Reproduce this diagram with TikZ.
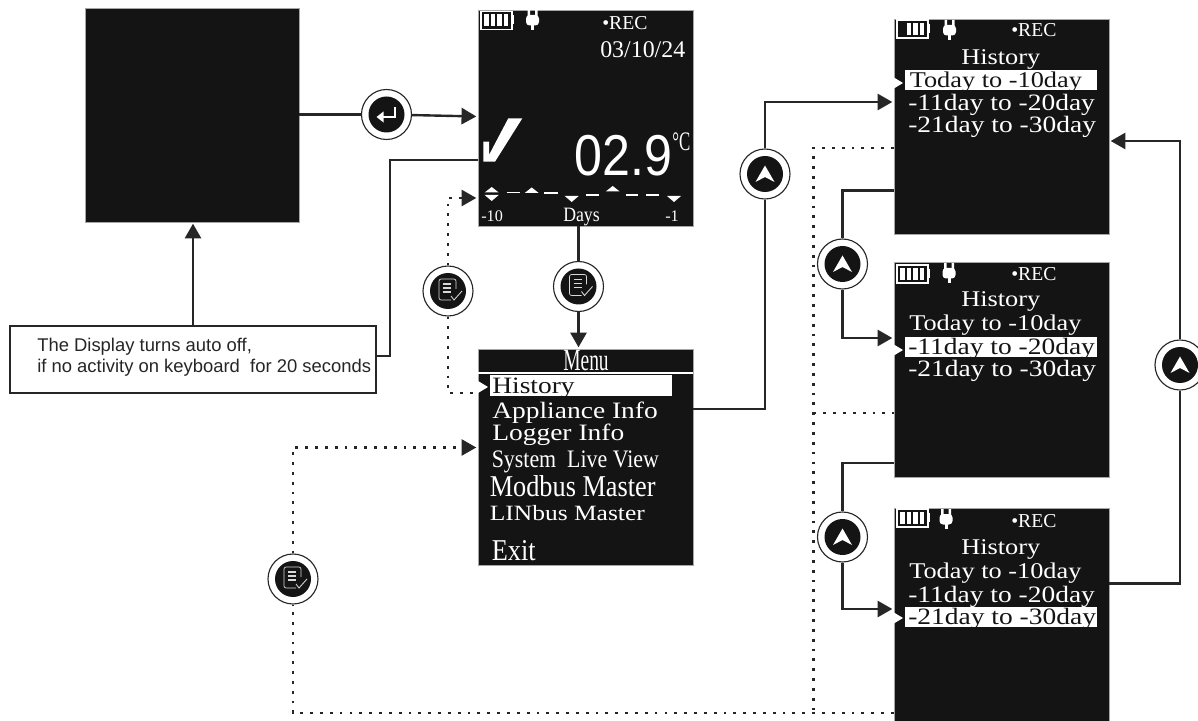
\documentclass[tikz,border=0pt]{standalone}
\usepackage{fontspec}
\usetikzlibrary{arrows.meta,positioning}
\setmainfont{Liberation Serif}
\setsansfont{Liberation Sans}
\newfontfamily\lcdwide[FakeStretch=1.17]{Liberation Serif}
\newfontfamily\lcdtall[FakeStretch=.87]{Liberation Serif}
\newfontfamily\lcdthin[FakeStretch=.63]{Liberation Serif}
\newfontfamily\lcdsans[FakeStretch=.87]{Liberation Sans}
\definecolor{ink}{RGB}{20,20,20}
\definecolor{wire}{RGB}{38,38,38}
\newcommand{\pxu}{0.025cm}
\tikzset{
  scrn/.style={draw=gray!70, fill=ink, inner sep=0pt, minimum width=215*\pxu, minimum height=215*\pxu},
  hbar/.style={fill=white, inner sep=0pt},
  lcd/.style={anchor=base west, inner sep=0pt, text=white},
  rowtxt/.style={lcd, font=\lcdwide\fontsize{16}{18}\selectfont},
  menutxt/.style={lcd, font=\lcdwide\fontsize{16.7}{18}\selectfont},
  bigtxt/.style={lcd, font=\lcdtall\fontsize{21.5}{23}\selectfont},
  smalltxt/.style={lcd, font=\fontsize{11.5}{13}\selectfont},
  rectxt/.style={lcd, font=\fontsize{14}{16}\selectfont},
  notebox/.style={draw=wire, fill=white, line width=1pt, minimum width=366*\pxu, minimum height=67*\pxu},
  keybtn/.style={circle, draw=wire, fill=white, line width=.8pt, inner sep=0pt, minimum size=50*\pxu},
  flowln/.style={wire, line width=1.7pt},
  flowarr/.style={flowln, -{Triangle[length=10.5pt,width=11.5pt]}, shorten >=1pt},
  dotln/.style={wire, line width=1.5pt, dash pattern=on 2pt off 5pt},
  dotarr/.style={dotln, -{Triangle[length=10.5pt,width=11.5pt]}, shorten >=1pt},
  pics/battery/.style={code={
    \draw[white, line width=.8pt] (0,0) rectangle (31,18);
    \fill[white] (31,4) rectangle (33,13);
    \foreach \b in {1,...,#1} \fill[white] ({29-6.5*\b},3) rectangle ++(4.6,12);
  }},
  pics/plug/.style={code={
    \fill[white] (-5,0) rectangle (-2.5,6) (2.5,0) rectangle (5,6);
    \fill[white, rounded corners=2.5pt] (-6.5,5) rectangle (6.5,15.5);
    \fill[white] (-1.5,15) rectangle (1.5,20);
  }},
  pics/upkey/.style={code={
    \fill[ink] (0,0) circle (18);
    \fill[white] (0,-8.5) -- (9.5,8) -- (0,3) -- (-9.5,8) -- cycle;
  }},
  pics/enterkey/.style={code={
    \fill[ink] (0,0) circle (18);
    \draw[white, line width=1.3pt, -{Triangle[length=5pt,width=7.5pt]}] (8.5,-7) -- (8.5,2.5) -- (-10,2.5);
  }},
  pics/dockey/.style={code={
    \fill[ink] (0,0) circle (18);
    \draw[white!85!black, line width=.5pt, rounded corners=1.5pt] (8,-2) -- (8,-12) -- (-9,-12) -- (-9,9) -- (3,9);
    \foreach \d in {-7,-3,1} \draw[white!85!black, line width=1.1pt] (-5,\d) -- (3,\d);
    \draw[white!85!black, line width=.6pt] (3,5) -- (6,9) -- (14,0);
  }},
}
\begin{document}
\begin{tikzpicture}[x=\pxu, y=-\pxu]
  \useasboundingbox (0,0) rectangle (1198,721);
  \clip (0,0) rectangle (1198,721);
  % screens
  \node[scrn, minimum width=214*\pxu, minimum height=214*\pxu] (blank) at (192,115) {};
  \node[scrn, minimum height=216*\pxu] (live) at (585.5,118) {};
  \node[scrn, minimum height=216*\pxu] (menu) at (585.5,457) {};
  \node[scrn] (scrA) at (1001.5,126.5) {};
  \node[scrn] (scrB) at (1001.5,369.5) {};
  \node[scrn] (scrC) at (1001.5,615.5) {};
  \node[notebox] (note) at (193,359.5) {};
  \node[anchor=base west, inner sep=0pt, text=wire, font=\sffamily\fontsize{13.1}{15.6}\selectfont, align=left] (notetxt) at (37,373)
       {The Display turns auto off,\\if no activity on keyboard\ \ for 20 seconds};
  % live view
  \pic at (481,11.5) {battery=4};
  \pic at (532.5,10) {plug};
  \node[rectxt] (recL) at (602,29.5) {•REC};
  \node[lcd, font=\fontsize{17}{19}\selectfont] (date) at (600,58) {03/10/24};
  \fill[white] (483.3,141.7) -- (489,141.7) -- (489,155) -- (508.3,118.3) -- (522.3,118.3) -- (495,161.7) -- (483.3,161.7) -- cycle;
  \node[lcd, font=\lcdsans\fontsize{41}{43}\selectfont] (temp) at (574,175.5) {02.9};
  \node[lcd, font=\lcdthin\fontsize{19}{21}\selectfont] (unit) at (672,151) {°C};
  \foreach \tx/\ty in {491.7/187,531.7/187.5,612.7/186} \fill[white] (\tx,\ty) -- (\tx+7,\ty+5.5) -- (\tx-7,\ty+5.5) -- cycle;
  \foreach \tx/\ty in {491.7/201,571.7/202,674/202} \fill[white] (\tx,\ty) -- (\tx+7,\ty-6) -- (\tx-7,\ty-6) -- cycle;
  \foreach \ds/\de/\dy in {506.7/520/192.3,544/557.7/193,585.7/599/195,625.7/638/195,646/659/195}
    \draw[white, line width=1pt] (\ds,\dy) -- (\de,\dy);
  \node[smalltxt] (daysL) at (481,222) {-10};
  \node[lcd, font=\lcdtall\fontsize{14.5}{16}\selectfont] (days) at (563,222) {Days};
  \node[smalltxt] (daysR) at (665,222) {-1};
  % menu
  \node[lcd, anchor=base, font=\lcdthin\fontsize{22}{24}\selectfont] (mtitle) at (586,371) {Menu};
  \draw[white, line width=1pt] (menu.west |- 0,373) -- (menu.east |- 0,373);
  \node[hbar, minimum width=182*\pxu, minimum height=21*\pxu] (mhi) at (581,385.5) {};
  \fill[white] (478,381) -- (488,387) -- (478,393) -- cycle;
  \node[menutxt, text=ink] (mA) at (492,393) {History};
  \node[menutxt] (mB) at (492,418) {Appliance Info};
  \node[menutxt] (mC) at (492,441) {Logger Info};
  \node[lcd, font=\lcdtall\fontsize{17.9}{19}\selectfont] (mD) at (491.5,468) {System\ \ Live View};
  \node[bigtxt] (mE) at (489.5,496) {Modbus Master};
  \node[lcd, font=\lcdwide\fontsize{15.5}{17}\selectfont] (mF) at (489.5,520) {LINbus Master};
  \node[bigtxt] (mG) at (491.5,560) {Exit};
  % history 1
  \pic at (897,20) {battery=3};
  \pic at (949.5,20) {plug};
  \node[rectxt] (recA) at (1011,36.5) {•REC};
  \node[rowtxt] (hA) at (961,65) {History};
  \node[hbar, minimum width=192*\pxu, minimum height=20*\pxu] (hiA) at (1001,80) {};
  \fill[white] (893,77) -- (903,83) -- (893,89) -- cycle;
  \node[rowtxt, text=ink] (aA) at (909.5,88) {Today to -10day};
  \node[menutxt] (aB) at (908,111) {-11day to -20day};
  \node[menutxt] (aC) at (908,133) {-21day to -30day};
  % history 2
  \pic at (897,265) {battery=4};
  \pic at (949,263) {plug};
  \node[rectxt] (recB) at (1011,280.5) {•REC};
  \node[rowtxt] (hB) at (961,307) {History};
  \node[rowtxt] (bA) at (909,331) {Today to -10day};
  \node[hbar, minimum width=192*\pxu, minimum height=20*\pxu] (hiB) at (1001,347.5) {};
  \fill[white] (893,344) -- (903,350) -- (893,356) -- cycle;
  \node[menutxt, text=ink] (bB) at (908,355) {-11day to -20day};
  \node[menutxt] (bC) at (908,377) {-21day to -30day};
  % history 3
  \pic at (897,509) {battery=4};
  \pic at (946,509) {plug};
  \node[rectxt] (recC) at (1011,527) {•REC};
  \node[rowtxt] (hC) at (961,554) {History};
  \node[rowtxt] (cA) at (909,578) {Today to -10day};
  \node[menutxt] (cB) at (908,602) {-11day to -20day};
  \node[hbar, minimum width=192*\pxu, minimum height=20*\pxu] (hiC) at (1001,617) {};
  \fill[white] (893,612) -- (903,618) -- (893,624) -- cycle;
  \node[menutxt, text=ink] (cC) at (908,624) {-21day to -30day};
  % keys
  \node[keybtn] (kenter) at (386.5,114.5) {};
  \node[keybtn] (kdocA) at (578.5,286.5) {};
  \node[keybtn] (kdocB) at (448,291) {};
  \node[keybtn] (kdocC) at (293,579) {};
  \node[keybtn] (kupA) at (765,174) {};
  \node[keybtn] (kupB) at (842.5,264) {};
  \node[keybtn] (kupC) at (842.5,537) {};
  \node[keybtn] (kupD) at (1180,365) {};
  \pic at (kenter) {enterkey};
  \foreach \k in {kdocA,kdocB,kdocC} \pic at (\k) {dockey};
  \foreach \k in {kupA,kupB,kupC,kupD} \pic at (\k) {upkey};
  % bends
  \coordinate (bendA) at (390,160);
  \coordinate (bendB) at (448,198);
  \coordinate (bendC) at (448,393);
  \coordinate (bendD) at (293,713);
  \coordinate (bendE) at (293,447.5);
  \coordinate (bendF) at (813.5,148);
  \coordinate (bendG) at (813.5,713);
  \coordinate (bendH) at (813.5,413);
  % solid connectors
  \draw[flowln] (blank.east |- kenter) -- (kenter);
  \draw[flowarr] (kenter) -- (live.west |- 0,116.5);
  \draw[flowarr] (note.north) -- (note.north |- blank.south);
  \draw[flowln] (note.east |- 0,356) -| (bendA) -- (live.west |- bendA);
  \draw[flowln] (kdocA |- live.south) -- (kdocA);
  \draw[flowarr] (kdocA) -- (kdocA |- menu.north);
  \draw[flowln] (menu.east |- 0,409) -| (kupA);
  \draw[flowarr] (kupA) |- (scrA.west |- 0,102);
  \draw[flowln] (scrA.west |- 0,190.5) -| (kupB);
  \draw[flowarr] (kupB) |- (scrB.west |- 0,338);
  \draw[flowln] (scrB.west |- 0,463) -| (kupC);
  \draw[flowarr] (kupC) |- (scrC.west |- 0,609);
  \draw[flowln] (scrC.east |- 0,583.5) -| (kupD);
  \draw[flowarr] (kupD) |- (scrA.east |- 0,141);
  % dotted connectors
  \draw[dotarr] (kdocB) -- (bendB) -- (live.west |- bendB);
  \draw[dotln] (kdocB) -- (bendC) -- (menu.west |- bendC);
  \draw[dotln] (scrC.west |- bendD) -- (bendD) -- (kdocC);
  \draw[dotarr] (kdocC) -- (bendE) -- (menu.west |- bendE);
  \draw[dotln] (scrA.west |- bendF) -- (bendF) -- (bendG);
  \draw[dotln] (bendH) -- (scrB.west |- bendH);
\end{tikzpicture}
\end{document}
